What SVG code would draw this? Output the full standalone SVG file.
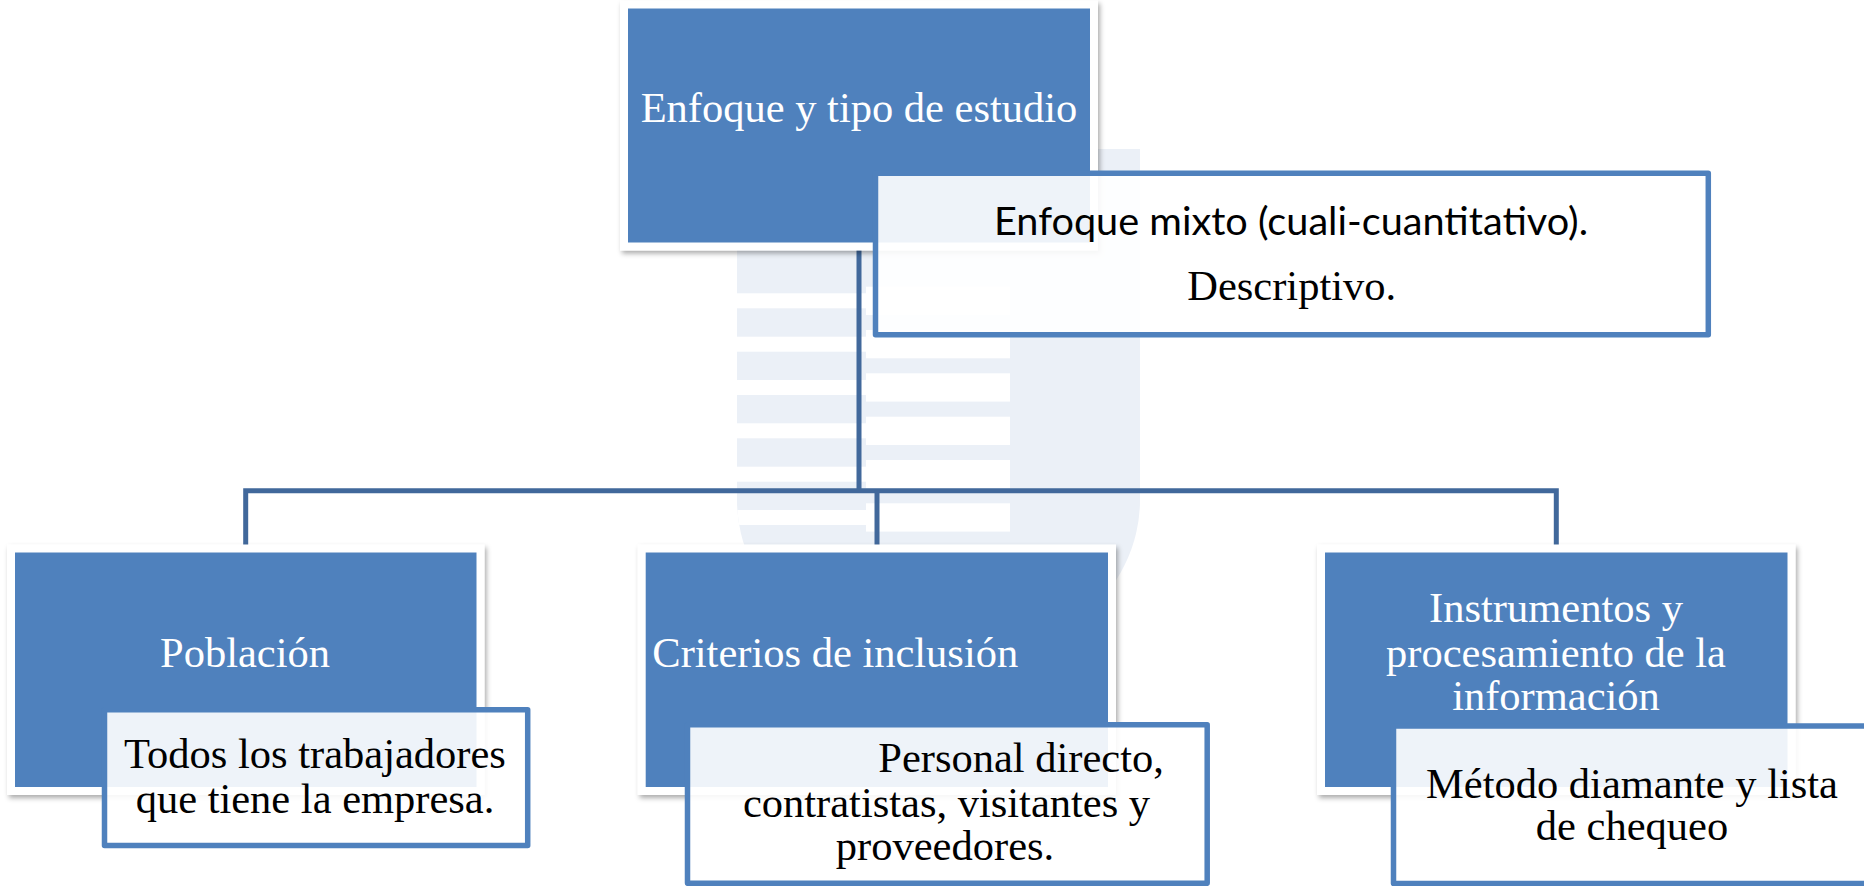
<svg xmlns="http://www.w3.org/2000/svg" width="1864" height="886" viewBox="0 0 1864 886">
<defs>
<filter id="sh" x="-5%" y="-5%" width="112%" height="115%">
<feDropShadow dx="2" dy="3" stdDeviation="2.5" flood-color="#000" flood-opacity="0.33"/>
</filter>
<clipPath id="wmclip"><path d="M737,149 H1140 V500 A201.5,170 0 0 1 737,500 Z"/></clipPath>
</defs>
<style>
.main{fill:#4F81BD;stroke:#FFFFFF;stroke-width:8;filter:url(#sh)}
.sub{fill:#FFFFFF;fill-opacity:0.9;stroke:#4F81BD;stroke-width:5.5;stroke-linejoin:round}
.wt{font-family:"Liberation Serif","Times New Roman",serif;font-size:42.5px;fill:#FFFFFF}
.bt{font-family:"Liberation Serif","Times New Roman",serif;font-size:42.5px;fill:#000000}
.cal{font-family:Lato,"Noto Sans",sans-serif;font-size:39px;fill:#000000}
.conn{fill:none;stroke:#41689B;stroke-width:5}
.wm{fill:#EBF0F7}
.gap{fill:#FFFFFF}
</style>
<rect x="0" y="0" width="1864" height="886" fill="#FFFFFF"/>
<g id="watermark" clip-path="url(#wmclip)">
<rect class="wm" x="737" y="149" width="403" height="600"/>
<rect class="gap" x="737" y="293.3" width="129" height="15"/>
<rect class="gap" x="737" y="336.7" width="129" height="15"/>
<rect class="gap" x="737" y="380" width="129" height="15"/>
<rect class="gap" x="737" y="423.3" width="129" height="15"/>
<rect class="gap" x="737" y="466.7" width="129" height="15"/>
<rect class="gap" x="737" y="510" width="129" height="15"/>
<rect class="gap" x="737" y="553.3" width="129" height="15"/>
<rect class="gap" x="866" y="286.7" width="144" height="28.3"/>
<rect class="gap" x="866" y="330" width="144" height="28.3"/>
<rect class="gap" x="866" y="373.3" width="144" height="28.3"/>
<rect class="gap" x="866" y="416.7" width="144" height="28.3"/>
<rect class="gap" x="866" y="460" width="144" height="28.3"/>
<rect class="gap" x="866" y="503.3" width="144" height="28.3"/>
<rect class="gap" x="866" y="546.7" width="144" height="28.3"/>
</g>
<g id="connectors">
<path class="conn" d="M859,248 V490.7"/>
<path class="conn" d="M245.7,546 V490.7 H1556.3 V546"/>
<path class="conn" d="M877,490.7 V546"/>
</g>
<g id="node-enfoque">
<rect class="main" x="624" y="4.5" width="470" height="242"/>
<text class="wt" x="859" y="122" text-anchor="middle">Enfoque y tipo de estudio</text>
</g>
<g id="node-enfoque-detalle">
<rect class="sub" x="875.5" y="173.3" width="832.8" height="161.5"/>
<text class="cal" x="1291" y="235" text-anchor="middle" textLength="594" lengthAdjust="spacingAndGlyphs">Enfoque mixto (cuali-cuantitativo).</text>
<text class="bt" x="1291.7" y="300" text-anchor="middle">Descriptivo.</text>
</g>
<g id="node-poblacion">
<rect class="main" x="11" y="548.5" width="469.5" height="242.5"/>
<text class="wt" x="245" y="666.7" text-anchor="middle">Población</text>
</g>
<g id="node-poblacion-detalle">
<rect class="sub" x="104.5" y="709.8" width="423.2" height="135.7"/>
<text class="bt" x="315" y="768.3" text-anchor="middle">Todos los trabajadores</text>
<text class="bt" x="315" y="813.3" text-anchor="middle">que tiene la empresa.</text>
</g>
<g id="node-criterios">
<rect class="main" x="641.7" y="548.5" width="470.3" height="242.5"/>
<text class="wt" x="652.3" y="666.7">Criterios de inclusión</text>
</g>
<g id="node-criterios-detalle">
<rect class="sub" x="687.5" y="724.8" width="519.7" height="158.5"/>
<text class="bt" x="878.3" y="771.7">Personal directo,</text>
<text class="bt" x="946.5" y="816.7" text-anchor="middle">contratistas, visitantes y</text>
<text class="bt" x="945" y="860" text-anchor="middle">proveedores.</text>
</g>
<g id="node-instrumentos">
<rect class="main" x="1321" y="548.5" width="470.5" height="242.5"/>
<text class="wt" x="1556" y="622" text-anchor="middle">Instrumentos y</text>
<text class="wt" x="1556" y="666.5" text-anchor="middle">procesamiento de la</text>
<text class="wt" x="1556" y="710" text-anchor="middle">información</text>
</g>
<g id="node-instrumentos-detalle">
<rect class="sub" x="1393.5" y="726" width="477" height="157.5"/>
<text class="bt" x="1632" y="798.3" text-anchor="middle">Método diamante y lista</text>
<text class="bt" x="1632" y="840" text-anchor="middle">de chequeo</text>
</g>
</svg>
